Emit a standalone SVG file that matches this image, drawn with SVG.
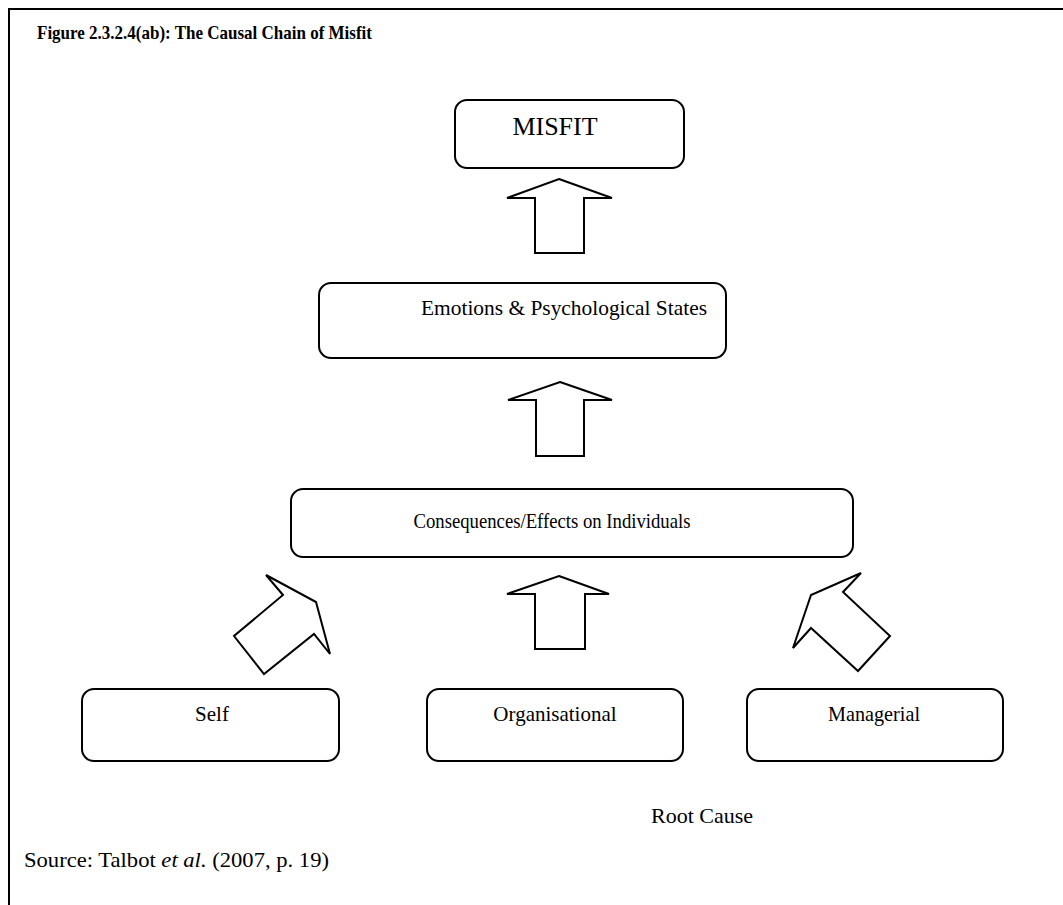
<svg xmlns="http://www.w3.org/2000/svg" width="1063" height="905" viewBox="0 0 1063 905">
<style>
text{font-family:"Liberation Serif","Times New Roman",serif;fill:#000}
.box{fill:#fff;stroke:#000;stroke-width:2}
.arr{fill:#fff;stroke:#000;stroke-width:2;stroke-linejoin:miter}
.lbl{font-size:21px;text-anchor:middle}
</style>
<rect width="1063" height="905" fill="#fff"/>
<path d="M9,905 V9 H1063" fill="none" stroke="#000" stroke-width="2"/>
<text x="37" y="39" font-size="19" font-weight="bold" textLength="335" lengthAdjust="spacingAndGlyphs">Figure 2.3.2.4(ab): The Causal Chain of Misfit</text>
<g id="misfit"><rect class="box" x="455" y="100" width="229" height="68" rx="12"/><text x="555" y="135" font-size="26" text-anchor="middle">MISFIT</text></g>
<g id="emotions"><rect class="box" x="319" y="283" width="407" height="75" rx="12"/><text class="lbl" x="564" y="315" textLength="286" lengthAdjust="spacingAndGlyphs">Emotions &amp; Psychological States</text></g>
<g id="consequences"><rect class="box" x="291" y="489" width="562" height="68" rx="12"/><text class="lbl" x="552" y="528" textLength="277" lengthAdjust="spacingAndGlyphs">Consequences/Effects on Individuals</text></g>
<g id="self"><rect class="box" x="82" y="689" width="257" height="72" rx="12"/><text class="lbl" x="212" y="721">Self</text></g>
<g id="organisational"><rect class="box" x="427" y="689" width="256" height="72" rx="12"/><text class="lbl" x="555" y="721">Organisational</text></g>
<g id="managerial"><rect class="box" x="747" y="689" width="256" height="72" rx="12"/><text class="lbl" x="874" y="721" textLength="92" lengthAdjust="spacingAndGlyphs">Managerial</text></g>
<g id="connectors">
<polygon class="arr" points="559,179 612,198 584,198 584,253 535,253 535,198 507,198"/>
<polygon class="arr" points="560,382 612,400 584,400 584,456 536,456 536,400 508,400"/>
<polygon class="arr" points="559,576 609,594 585,594 585,649 535,649 535,594 507,594"/>
<polygon class="arr" points="266,575 316,602 330,654 314,634 264,674 234,636 283,595"/>
<polygon class="arr" points="861,573 843,592 890,636 858,671 811,628 793,648 811,595"/>
</g>
<text x="702" y="823" font-size="22" text-anchor="middle">Root Cause</text>
<text x="24" y="867" font-size="22" textLength="305" lengthAdjust="spacingAndGlyphs">Source: Talbot <tspan font-style="italic">et al.</tspan> (2007, p. 19)</text>
</svg>
